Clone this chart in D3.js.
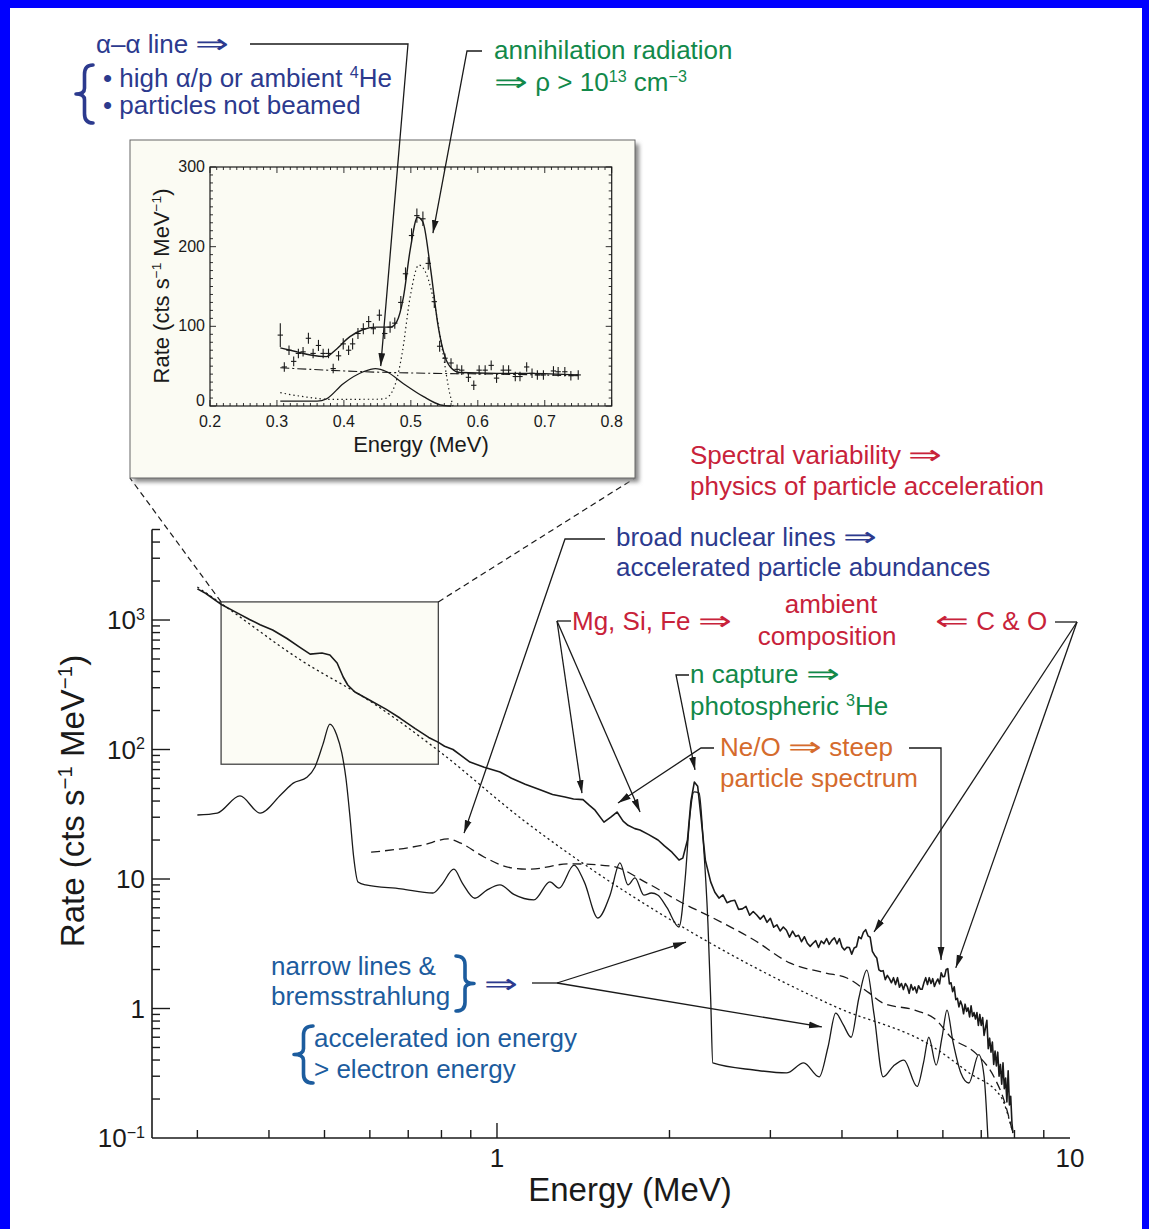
<!DOCTYPE html>
<html><head><meta charset="utf-8">
<script src="https://cdn.jsdelivr.net/npm/d3@7"></script>
<style>
body{margin:0;background:#fff}
svg{display:block}
text{font-family:"Liberation Sans",Arial,Helvetica,sans-serif;white-space:pre}
</style>
</head><body>
<svg id="c" width="1149" height="1229"></svg>
<script>
// ---------------- DATA ----------------
// Main panel: observed count spectrum (Energy MeV, Rate cts/s/MeV)
const observedSpectrum = [
[0.300,1740],[0.31,1610],[0.331,1310],[0.35,1150],[0.37,1010],[0.386,920],[0.406,837],[0.43,720],[0.453,615],[0.472,545],[0.495,556],[0.511,537],[0.526,466],[0.539,363],[0.549,315],[0.565,278],[0.60,240],[0.64,205],[0.677,175],[0.72,145],[0.76,124],[0.789,114],[0.81,106],[0.838,100],[0.865,90],[0.897,80],[0.95,73],[1.012,67],[1.06,60],[1.12,54],[1.189,49],[1.25,45],[1.314,43],[1.36,41.5],[1.413,41],[1.45,37],[1.483,34],[1.537,27.5],[1.58,30],[1.62,32.9],[1.66,28],[1.693,26],[1.74,24.5],[1.776,23.9],[1.84,22],[1.91,20],[1.96,18],[2.02,16.1],[2.078,14.0],[2.11,14.5],[2.15,20],[2.18,40],[2.21,56],[2.24,52],[2.27,30],[2.31,14],[2.36,9.5],
[2.40,7.9],[2.44,7.13],[2.48,7.53],[2.52,6.56],[2.56,6.77],[2.60,6.85],[2.64,5.83],[2.68,5.88],[2.72,6.14],[2.76,5.25],[2.80,5.61],[2.84,5.27],[2.88,4.9],[2.92,5.23],[2.96,4.63],[3.00,4.97],[3.04,4.25],[3.08,4.43],[3.12,3.97],[3.16,4.26],[3.20,4.02],[3.24,3.56],[3.28,3.96],[3.32,3.6],[3.36,3.68],[3.40,3.28],[3.44,3.58],[3.48,3.19],[3.52,3.02],[3.56,3.19],[3.60,3.34],[3.64,2.96],[3.68,3.32],[3.72,3.17],[3.76,3.47],[3.80,3.13],[3.84,3.36],[3.88,3.52],[3.92,3.16],[3.96,3.46],
[4.00,2.99],[4.04,2.83],[4.08,2.97],[4.12,2.96],[4.16,2.63],[4.20,2.93],[4.24,3.0],[4.28,3.58],[4.32,3.46],[4.36,3.88],[4.40,4.06],[4.44,3.64],[4.48,3.55],[4.52,2.76],[4.56,2.58],[4.60,2.46],[4.64,1.99],[4.68,1.94],[4.72,1.96],[4.76,1.67],[4.80,1.8],[4.84,1.7],[4.88,1.58],[4.92,1.73],[4.96,1.53],[5.00,1.73],[5.04,1.46],[5.08,1.56],[5.12,1.4],[5.16,1.56],[5.20,1.48],[5.24,1.31],[5.28,1.53],[5.32,1.39],[5.36,1.47],[5.40,1.32],[5.44,1.5],[5.48,1.41],[5.52,1.41],[5.56,1.58],[5.60,1.73],[5.64,1.53],[5.68,1.73],[5.72,1.56],[5.76,1.7],[5.80,1.48],[5.84,1.6],[5.88,1.69],[5.92,1.55],[5.96,1.89],
[6.00,1.76],[6.04,1.77],[6.08,2.0],[6.12,2.03],[6.16,1.55],[6.20,1.58],[6.24,1.35],[6.28,1.47],[6.32,1.17],[6.36,1.2],[6.40,1.03],[6.44,1.14],[6.48,1.06],[6.52,0.91],[6.56,1.08],[6.60,0.95],[6.64,1.01],[6.68,0.86],[6.72,1.05],[6.76,0.87],[6.80,0.93],[6.84,0.83],[6.88,0.93],[6.92,0.74],[6.96,0.9],
[7.00,0.74],[7.04,0.85],[7.08,0.62],[7.12,0.71],[7.16,0.81],[7.20,0.49],[7.24,0.59],[7.28,0.46],[7.32,0.55],[7.36,0.37],[7.40,0.47],[7.44,0.36],[7.48,0.46],[7.52,0.3],[7.56,0.37],[7.60,0.26],[7.64,0.38],[7.68,0.24],[7.72,0.29],[7.76,0.19],[7.80,0.33],[7.84,0.18],[7.88,0.21],[7.92,0.13],[7.95,0.11]];

// Bremsstrahlung continuum model (dotted)
const bremsModel = [[0.300,1800],[0.331,1330],[0.453,495],[0.607,229],[0.795,96],[1.11,28.6],[1.442,12.4],[2.095,4.33],[2.81,2.09],[3.9,1.03],[5.77,0.505],[6.67,0.318],[7.58,0.207],[7.95,0.109]];

// Broad nuclear lines model (dashed)
const broadLines = [[0.603,16.1],[0.743,18.3],[0.821,20.4],[0.865,18.9],[0.949,14.8],[1.058,12.2],[1.142,11.9],[1.335,13.1],[1.581,12.6],[1.828,9.3],[2.111,6.5],[2.362,5.1],[2.81,3.38],[3.25,2.24],[3.75,1.88],[4.08,1.72],[4.46,1.32],[4.72,1.10],[5.36,0.97],[5.84,0.815],[6.20,0.60],[6.85,0.45],[7.37,0.296],[7.67,0.196],[7.95,0.109]];

// Narrow de-excitation lines model (thin solid)
const narrowLines = [[0.300,31.2],[0.325,32.3],[0.356,43.8],[0.386,32.3],[0.42,45],[0.441,55],[0.466,61],[0.481,73],[0.497,110],[0.511,157],[0.525,130],[0.536,94],[0.545,60],[0.554,30],[0.562,15],[0.572,9.5],[0.59,9.0],[0.68,8.4],[0.773,7.8],[0.80,9.0],[0.841,11.9],[0.87,9.3],[0.915,7.1],[0.96,8.2],[1.012,9.0],[1.07,7.6],[1.16,6.9],[1.237,9.5],[1.283,8.5],[1.363,12.8],[1.42,9.5],[1.50,5.0],[1.575,7.5],[1.639,13.3],[1.693,9.0],[1.741,10.2],[1.805,7.5],[1.86,7.8],[1.91,7.5],[1.98,6.0],[2.078,4.26],[2.13,10],[2.17,30],[2.207,47],[2.253,46],[2.29,20],[2.334,4.57],[2.36,1.2],[2.38,0.38],[2.81,0.335],[3.20,0.318],[3.43,0.38],[3.65,0.296],[3.78,0.5],[3.90,0.92],[4.02,0.75],[4.15,0.60],[4.28,1.2],[4.42,1.98],[4.55,0.9],[4.72,0.296],[4.92,0.36],[5.13,0.40],[5.41,0.25],[5.55,0.38],[5.67,0.60],[5.84,0.366],[5.98,0.6],[6.10,0.97],[6.25,0.55],[6.45,0.318],[6.66,0.266],[6.93,0.44],[7.08,0.3],[7.19,0.1]];

// Inset region box in main panel (energy range, rate range)
const zoomEnergy = [0.33, 0.79];
const zoomRate = [77, 1380];

// Axis ticks
const mainYMajor = [0.1, 1, 10, 100, 1000];
const mainYLabels = [["10",{sup:"\u22121"}], ["1"], ["10"], ["10",{sup:"2"}], ["10",{sup:"3"}]];
const mainXLabels = [1, 10];
const insetXTicks = [0.2, 0.3, 0.4, 0.5, 0.6, 0.7, 0.8];
const insetYTicks = [0, 100, 200, 300];

// Inset data points (energy MeV, rate, error)
const insetEnergy = [0.305,0.311,0.318,0.325,0.332,0.339,0.347,0.354,0.362,0.369,0.377,0.384,0.392,0.399,0.407,0.413,0.421,0.429,0.437,0.444,0.453,0.461,0.469,0.476,0.485,0.492,0.501,0.509,0.518,0.526,0.535,0.543,0.551,0.560,0.569,0.576,0.586,0.594,0.602,0.611,0.620,0.628,0.638,0.646,0.656,0.663,0.673,0.681,0.689,0.698,0.713,0.720,0.730,0.739,0.750];
const insetRate   = [89,49,70,56,66,68,85,66,76,66,66,47,63,78,70,78,91,97,106,97,114,91,99,104,130,166,214,239,235,179,131,75,60,54,46,45,36,26,45,45,51,35,45,45,37,37,49,41,39,39,44,43,43,38,39];
const insetError  = [15,6,6,6,6,6,7,6,7,6,6,6,6,7,6,7,7,7,7,7,7,7,7,7,8,8,9,9,9,8,8,7,6,6,6,6,6,6,6,6,6,6,6,6,6,6,6,6,6,6,6,6,6,6,6];
// Inset model curves
const insetTotalFit = [[0.305,73],[0.33,68],[0.35,64],[0.374,62],[0.387,70],[0.409,87],[0.429,96],[0.449,99],[0.469,99],[0.479,106],[0.489,137],[0.499,196],[0.510,237],[0.518,231],[0.529,175],[0.541,99],[0.551,62],[0.561,47],[0.573,42],[0.628,41],[0.678,41],[0.750,39]];
const insetContinuum = [[0.305,48],[0.35,46],[0.43,43],[0.53,41],[0.63,40],[0.75,38]];
const insetAnnihilation = [[0.305,16.7],[0.34,11.7],[0.38,8.4],[0.45,8.5],[0.462,9.6],[0.477,28],[0.487,66],[0.499,137],[0.512,177],[0.523,166],[0.536,125],[0.548,66],[0.558,16],[0.563,0]];
const insetAlphaAlpha = [[0.305,6],[0.36,6],[0.374,9],[0.399,28],[0.429,43],[0.447,47],[0.464,43],[0.489,28],[0.519,11.7],[0.544,1.5],[0.56,0]];

// ---------------- DRAWING ----------------
const W = 1149, H = 1229;
const svg = d3.select('#c');
const NAVY = '#2c3a8e', BLUE = '#1c5c9e', RED = '#c8223a', GREEN = '#12894a', ORANGE = '#d56b2d', INK = '#1a1a1a';

svg.append('rect').attr('width', W).attr('height', H).attr('fill', '#0000ff');
svg.append('rect').attr('x', 10).attr('y', 8).attr('width', W - 17).attr('height', H - 8).attr('fill', '#fff');

const defs = svg.append('defs');
defs.append('marker').attr('id', 'ah').attr('viewBox', '0 0 13 8').attr('refX', 13).attr('refY', 4)
  .attr('markerWidth', 13).attr('markerHeight', 8).attr('markerUnits', 'userSpaceOnUse').attr('orient', 'auto')
  .append('path').attr('d', 'M0,0.6 L13,4 L0,7.4 Z').attr('fill', INK);
const blur = defs.append('filter').attr('id', 'sh').attr('x', '-5%').attr('y', '-5%').attr('width', '115%').attr('height', '115%');
blur.append('feGaussianBlur').attr('stdDeviation', 2.2);

// rich text helper: segments are strings, {sup:".."} or {arrow:".."}
function rich(parent, x, y, segs, o) {
  const g = parent.append('g');
  const color = o.color || INK;
  const sh = o.size * 0.36;
  let cx = 0, cur = null, raised = false;
  const flush = () => { if (cur) { cx += cur.node().getComputedTextLength(); cur = null; } };
  segs.forEach(s => {
    if (typeof s === 'string' || s.sup !== undefined) {
      if (!cur) { cur = g.append('text').attr('x', cx).attr('y', 0).attr('font-size', o.size).attr('fill', color); raised = false; }
      if (typeof s === 'string') {
        const ts = cur.append('tspan').text(s);
        if (raised) { ts.attr('dy', sh); raised = false; }
      } else {
        cur.append('tspan').attr('font-size', o.size * 0.62).attr('dy', raised ? 0 : -sh).text(s.sup);
        raised = true;
      }
    } else {
      flush();
      const sx = 1.5;
      const t = g.append('text').attr('font-size', o.size * 1.05).attr('font-family', 'DejaVu Sans').attr('fill', color)
        .text(s.arrow).attr('transform', `translate(${cx},0) scale(${sx},1)`);
      cx += t.node().getComputedTextLength() * sx;
    }
  });
  flush();
  const dx = o.anchor === 'middle' ? -cx / 2 : (o.anchor === 'end' ? -cx : 0);
  if (o.rotate) g.attr('transform', `translate(${x},${y}) rotate(${o.rotate}) translate(${dx},0)`);
  else g.attr('transform', `translate(${x + dx},${y})`);
  return g;
}

function brace(parent, xArm, xTip, y0, y1, color) {
  const ym = (y0 + y1) / 2, xm = (xArm + xTip) / 2, h = y1 - y0;
  const d = `M${xArm},${y0} Q${xm},${y0} ${xm},${y0 + h * 0.16} L${xm},${ym - h * 0.1} Q${xm},${ym} ${xTip},${ym}` +
            ` Q${xm},${ym} ${xm},${ym + h * 0.1} L${xm},${y1 - h * 0.16} Q${xm},${y1} ${xArm},${y1}`;
  parent.append('path').attr('d', d).attr('fill', 'none').attr('stroke', color).attr('stroke-width', 3.6)
    .attr('stroke-linecap', 'round').attr('stroke-linejoin', 'round');
}

function arrow(parent, pts) {
  parent.append('path').attr('d', d3.line()(pts)).attr('fill', 'none').attr('stroke', INK)
    .attr('stroke-width', 1.3).attr('marker-end', 'url(#ah)');
}
function polyline(parent, pts) {
  parent.append('path').attr('d', d3.line()(pts)).attr('fill', 'none').attr('stroke', INK).attr('stroke-width', 1.3);
}

// ---------- main panel ----------
const x = d3.scaleLog().domain([0.25, 10]).range([152, 1070]);
const y = d3.scaleLog().domain([0.1, 5000]).range([1138, 529.5]);
const main = svg.append('g');

main.append('rect').attr('x', x(zoomEnergy[0])).attr('y', y(zoomRate[1]))
  .attr('width', x(zoomEnergy[1]) - x(zoomEnergy[0])).attr('height', y(zoomRate[0]) - y(zoomRate[1]))
  .attr('fill', '#fcfcf5').attr('stroke', '#444').attr('stroke-width', 1.3);

const lineMain = d3.line().x(d => x(d[0])).y(d => y(d[1])).curve(d3.curveMonotoneX);
main.append('path').attr('d', lineMain(bremsModel)).attr('fill', 'none').attr('stroke', INK)
  .attr('stroke-width', 1.3).attr('stroke-dasharray', '2.2,3');
main.append('path').attr('d', lineMain(broadLines)).attr('fill', 'none').attr('stroke', INK)
  .attr('stroke-width', 1.3).attr('stroke-dasharray', '9,5');
main.append('path').attr('d', lineMain(narrowLines)).attr('fill', 'none').attr('stroke', INK)
  .attr('stroke-width', 1.3);
main.append('path').attr('d', d3.line().x(d => x(d[0])).y(d => y(d[1]))(observedSpectrum)).attr('fill', 'none').attr('stroke', INK)
  .attr('stroke-width', 1.6).attr('stroke-linejoin', 'round');

main.append('line').attr('x1', x(0.25)).attr('x2', x(0.25)).attr('y1', y(5000)).attr('y2', y(0.1)).attr('stroke', INK).attr('stroke-width', 1.6);
main.append('line').attr('x1', x(0.25)).attr('x2', x(10)).attr('y1', y(0.1)).attr('y2', y(0.1)).attr('stroke', INK).attr('stroke-width', 1.6);
for (let n = -1; n <= 3; n++) for (let k = 1; k <= 9; k++) {
  const v = k * Math.pow(10, n);
  if (v > 5000 || (n === -1 && k === 1)) continue;
  const len = k === 1 ? 18 : 8;
  main.append('line').attr('x1', x(0.25)).attr('x2', x(0.25) + len).attr('y1', y(v)).attr('y2', y(v)).attr('stroke', INK).attr('stroke-width', 1.4);
}
[0.3, 0.4, 0.5, 0.6, 0.7, 0.8, 0.9, 1, 2, 3, 4, 5, 6, 7, 8, 9].forEach(v => {
  const len = v === 1 ? 15 : 8;
  main.append('line').attr('x1', x(v)).attr('x2', x(v)).attr('y1', y(0.1)).attr('y2', y(0.1) - len).attr('stroke', INK).attr('stroke-width', 1.4);
});
mainYMajor.forEach((v, i) => rich(main, 145, y(v) + 9, mainYLabels[i], {size: 26, anchor: 'end', color: INK}));
mainXLabels.forEach(v => rich(main, x(v), 1167, [String(v)], {size: 26, anchor: 'middle', color: INK}));
rich(main, 630, 1201, ['Energy (MeV)'], {size: 33, anchor: 'middle', color: INK});
rich(main, 84, 801, ['Rate (cts s', {sup: '\u22121'}, ' MeV', {sup: '\u22121'}, ')'], {size: 33, anchor: 'middle', rotate: -90, color: INK});

// ---------- inset ----------
const inset = svg.append('g');
inset.append('line').attr('x1', x(zoomEnergy[0])).attr('y1', y(zoomRate[1])).attr('x2', 130).attr('y2', 478)
  .attr('stroke', INK).attr('stroke-width', 1.2).attr('stroke-dasharray', '6,4');
inset.append('line').attr('x1', x(zoomEnergy[1])).attr('y1', y(zoomRate[1])).attr('x2', 635).attr('y2', 478)
  .attr('stroke', INK).attr('stroke-width', 1.2).attr('stroke-dasharray', '6,4');
inset.append('rect').attr('x', 134).attr('y', 144).attr('width', 505).attr('height', 338).attr('fill', '#888').attr('filter', 'url(#sh)');
inset.append('rect').attr('x', 130).attr('y', 140).attr('width', 505).attr('height', 338).attr('fill', '#fbfbf3').attr('stroke', '#666').attr('stroke-width', 1);

const xi = d3.scaleLinear().domain([0.2, 0.8]).range([210, 611.7]);
const yi = d3.scaleLinear().domain([0, 300]).range([406, 167]);
inset.append('rect').attr('x', xi(0.2)).attr('y', yi(300)).attr('width', xi(0.8) - xi(0.2)).attr('height', yi(0) - yi(300))
  .attr('fill', 'none').attr('stroke', INK).attr('stroke-width', 1.2);
for (let i = 0; i <= 60; i++) {
  const v = 0.2 + i * 0.01, len = i % 10 === 0 ? 6 : 3;
  inset.append('line').attr('x1', xi(v)).attr('x2', xi(v)).attr('y1', yi(0)).attr('y2', yi(0) - len).attr('stroke', INK).attr('stroke-width', 0.9);
  inset.append('line').attr('x1', xi(v)).attr('x2', xi(v)).attr('y1', yi(300)).attr('y2', yi(300) + len).attr('stroke', INK).attr('stroke-width', 0.9);
}
for (let i = 0; i <= 30; i++) {
  const v = i * 10, len = i % 10 === 0 ? 6 : 3;
  inset.append('line').attr('x1', xi(0.2)).attr('x2', xi(0.2) + len).attr('y1', yi(v)).attr('y2', yi(v)).attr('stroke', INK).attr('stroke-width', 0.9);
  inset.append('line').attr('x1', xi(0.8)).attr('x2', xi(0.8) - len).attr('y1', yi(v)).attr('y2', yi(v)).attr('stroke', INK).attr('stroke-width', 0.9);
}
insetXTicks.forEach(v => rich(inset, xi(v), 427, [v.toFixed(1)], {size: 16, anchor: 'middle', color: INK}));
insetYTicks.forEach(v => rich(inset, 205, yi(v) + (v === 0 ? 0 : 5), [String(v)], {size: 16, anchor: 'end', color: INK}));
rich(inset, 421, 452, ['Energy (MeV)'], {size: 22, anchor: 'middle', color: INK});
rich(inset, 169, 286, ['Rate (cts s', {sup: '\u22121'}, ' MeV', {sup: '\u22121'}, ')'], {size: 22, anchor: 'middle', rotate: -90, color: INK});

const lineIn = d3.line().x(d => xi(d[0])).y(d => yi(d[1])).curve(d3.curveMonotoneX);
inset.append('path').attr('d', lineIn(insetContinuum)).attr('fill', 'none').attr('stroke', INK).attr('stroke-width', 1.1).attr('stroke-dasharray', '9,3,2,3');
inset.append('path').attr('d', lineIn(insetAnnihilation)).attr('fill', 'none').attr('stroke', INK).attr('stroke-width', 1.2).attr('stroke-dasharray', '1.4,3');
inset.append('path').attr('d', lineIn(insetAlphaAlpha)).attr('fill', 'none').attr('stroke', INK).attr('stroke-width', 1.3);
inset.append('path').attr('d', lineIn(insetTotalFit)).attr('fill', 'none').attr('stroke', INK).attr('stroke-width', 1.4);
insetEnergy.forEach((e, i) => {
  inset.append('line').attr('x1', xi(e - 0.004)).attr('x2', xi(e + 0.004)).attr('y1', yi(insetRate[i])).attr('y2', yi(insetRate[i])).attr('stroke', INK).attr('stroke-width', 1.1);
  inset.append('line').attr('x1', xi(e)).attr('x2', xi(e)).attr('y1', yi(insetRate[i] - insetError[i])).attr('y2', yi(insetRate[i] + insetError[i])).attr('stroke', INK).attr('stroke-width', 1.1);
});

// ---------- annotations ----------
const ann = svg.append('g');
rich(ann, 96, 53, ['\u03b1\u2013\u03b1 line ', {arrow: '\u21d2'}], {size: 26, color: NAVY});
rich(ann, 103, 87, ['\u2022 high \u03b1/p or ambient ', {sup: '4'}, 'He'], {size: 26, color: NAVY});
rich(ann, 103, 114, ['\u2022 particles not beamed'], {size: 26, color: NAVY});
brace(ann, 93, 76, 65, 123, NAVY);
arrow(ann, [[250, 44], [408, 44], [xi(0.455), yi(50)]]);

rich(ann, 494, 59, ['annihilation radiation'], {size: 26, color: GREEN});
rich(ann, 494, 91, [{arrow: '\u21d2'}, ' \u03c1 > 10', {sup: '13'}, ' cm', {sup: '\u22123'}], {size: 26, color: GREEN});
arrow(ann, [[482, 51], [467, 51], [xi(0.533), yi(217)]]);

rich(ann, 690, 464, ['Spectral variability ', {arrow: '\u21d2'}], {size: 26, color: RED});
rich(ann, 690, 495, ['physics of particle acceleration'], {size: 26, color: RED});

rich(ann, 616, 546, ['broad nuclear lines ', {arrow: '\u21d2'}], {size: 26, color: NAVY});
rich(ann, 616, 576, ['accelerated particle abundances'], {size: 26, color: NAVY});
arrow(ann, [[605, 539], [565, 539], [x(0.876), y(22.6)]]);

rich(ann, 572, 630, ['Mg, Si, Fe ', {arrow: '\u21d2'}], {size: 26, color: RED});
polyline(ann, [[571, 621], [557, 621]]);
arrow(ann, [[557, 621], [x(1.407), y(46)]]);
arrow(ann, [[557, 621], [x(1.777), y(32.9)]]);

rich(ann, 831, 613, ['ambient'], {size: 26, color: RED, anchor: 'middle'});
rich(ann, 827, 645, ['composition'], {size: 26, color: RED, anchor: 'middle'});

rich(ann, 935, 630, [{arrow: '\u21d0'}, ' C & O'], {size: 26, color: RED});
polyline(ann, [[1055, 622], [1077, 622]]);
arrow(ann, [[1077, 622], [x(4.55), y(3.9)]]);
arrow(ann, [[1077, 622], [x(6.32), y(2.06)]]);

rich(ann, 690, 683, ['n capture ', {arrow: '\u21d2'}], {size: 26, color: GREEN});
rich(ann, 690, 715, ['photospheric ', {sup: '3'}, 'He'], {size: 26, color: GREEN});
arrow(ann, [[689, 675], [676, 675], [x(2.216), y(69.5)]]);

rich(ann, 720, 756, ['Ne/O ', {arrow: '\u21d2'}, ' steep'], {size: 26, color: ORANGE});
rich(ann, 720, 787, ['particle spectrum'], {size: 26, color: ORANGE});
arrow(ann, [[714, 748], [701, 748], [x(1.626), y(38.6)]]);
arrow(ann, [[909, 748], [941, 748], [x(5.956), y(2.37)]]);

rich(ann, 271, 975, ['narrow lines &'], {size: 26, color: BLUE});
rich(ann, 271, 1005, ['bremsstrahlung'], {size: 26, color: BLUE});
brace(ann, 456, 474, 956, 1011, BLUE);
rich(ann, 484, 993, [{arrow: '\u21d2'}], {size: 26, color: NAVY});
polyline(ann, [[532, 983], [557, 983]]);
arrow(ann, [[557, 983], [x(2.137), y(3.26)]]);
arrow(ann, [[557, 983], [x(3.69), y(0.72)]]);
brace(ann, 313, 294, 1026, 1083, BLUE);
rich(ann, 314, 1047, ['accelerated ion energy'], {size: 26, color: BLUE});
rich(ann, 314, 1078, ['> electron energy'], {size: 26, color: BLUE});
</script>
</body></html>
